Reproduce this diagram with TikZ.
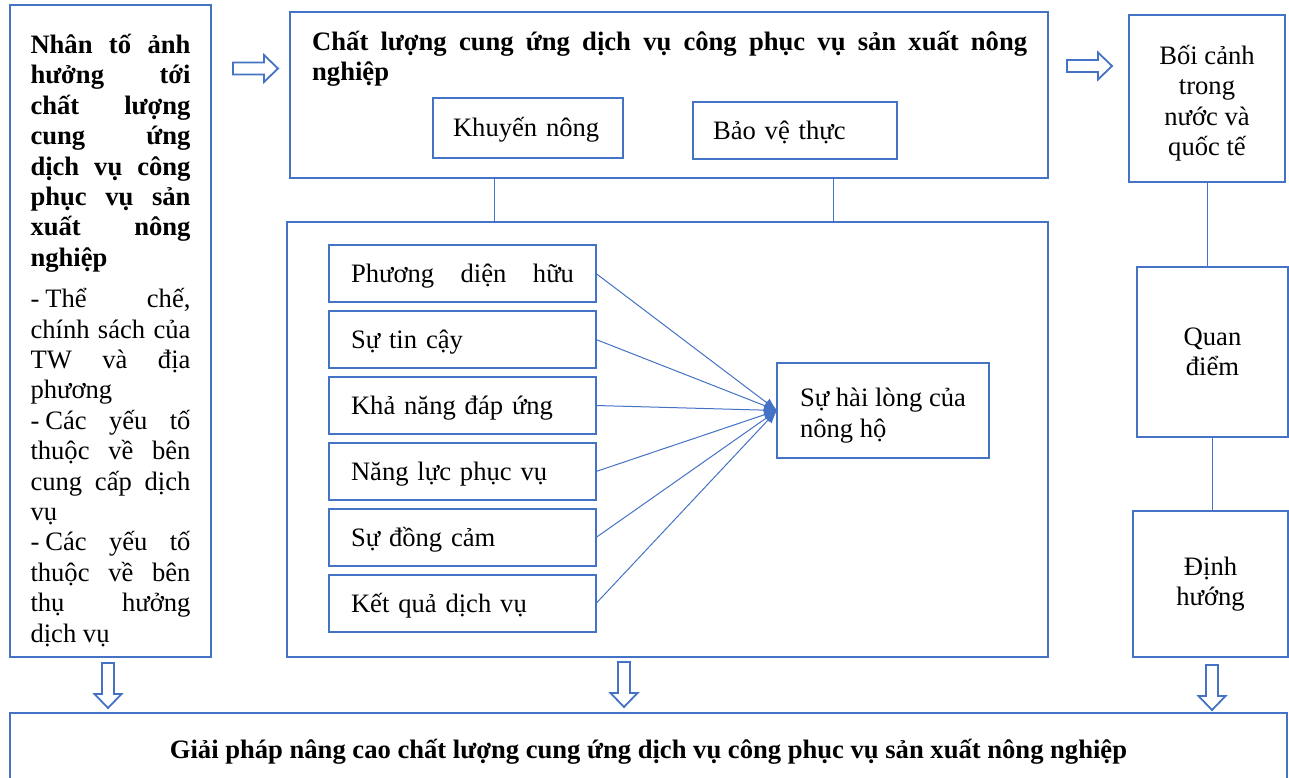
\documentclass[tikz,border=0pt]{standalone}
\usepackage{fontspec}
\setmainfont{Liberation Serif}
\usetikzlibrary{positioning,calc,arrows.meta}
\definecolor{boxblue}{RGB}{68,114,196}
\newcommand{\gach}{-\hspace{6pt}}
\tolerance=10000
\hbadness=10000
\hyphenpenalty=10000

\begin{document}
\begin{tikzpicture}[x=1pt, y=1pt,
    box/.style={draw=boxblue, line width=2.6pt, outer sep=0pt},
    txt/.style={font=\fontsize{26.6pt}{30.4pt}\selectfont},
    boldtxt/.style={font=\fontsize{26.6pt}{30.4pt}\selectfont\bfseries},
    oneline/.style={text height=22pt, text depth=4pt},
    link/.style={draw=boxblue, line width=1pt},
    factor/.style={box, txt, oneline, anchor=north west, minimum width=267pt, minimum height=57pt, text width=223pt, inner xsep=22pt, inner ysep=0pt, align=left},
    blockarrow/.pic={\draw[boxblue, line width=1.8pt, fill=white, line join=miter] (0,-6) -- (31,-6) -- (31,-13.5) -- (45,0) -- (31,13.5) -- (31,6) -- (0,6) -- cycle;}
]
\useasboundingbox (0,0) rectangle (1289,-778);

% Nhan to anh huong
\node (nhanto) [box, txt, anchor=north west, minimum width=201pt, minimum height=652pt, text width=160pt, inner xsep=20.5pt, inner ysep=0pt, align=justify, text height=38pt] at (10,-5) {{\bfseries Nhân tố ảnh\linebreak hưởng tới\linebreak chất lượng\linebreak cung ứng\linebreak dịch vụ công\linebreak phục vụ sản\linebreak xuất nông\linebreak nghiệp}\\[11pt]
\gach Thể chế,\linebreak chính sách của\linebreak TW và địa\linebreak phương\\
\gach Các yếu tố\linebreak thuộc về bên\linebreak cung cấp dịch\linebreak vụ\\
\gach Các yếu tố\linebreak thuộc về bên\linebreak thụ hưởng\linebreak dịch vụ};

% Chat luong cung ung
\node (chatluong) [box, anchor=north west, minimum width=758pt, minimum height=166pt] at (290,-12) {};
\node (tieude) [boldtxt, anchor=north west, text width=715pt, align=justify, inner sep=0pt, text height=20pt] at ($(chatluong.north west)+(22,-18)$) {Chất lượng cung ứng dịch vụ công phục vụ sản xuất nông\linebreak nghiệp};
\node (khuyennong) [box, txt, oneline, anchor=north west, minimum width=190pt, minimum height=60pt, text width=150pt, inner xsep=20pt, inner ysep=0pt, align=left] at (433,-98) {Khuyến nông};
\node (baove) [box, txt, oneline, anchor=north west, minimum width=204pt, minimum height=57pt, text width=164pt, inner xsep=20pt, inner ysep=0pt, align=left] at (693,-102) {Bảo vệ thực};

% Cac yeu to
\node (yeuto) [box, anchor=north west, minimum width=761pt, minimum height=435pt] at (287,-222) {};
\node (huuhinh) [factor] at (329,-245) {Phương\hfill diện\hfill hữu};
\node (tincay) [factor, below=9pt of huuhinh] {Sự tin cậy};
\node (dapung) [factor, below=9pt of tincay] {Khả năng đáp ứng};
\node (nangluc) [factor, below=9pt of dapung] {Năng lực phục vụ};
\node (dongcam) [factor, below=9pt of nangluc] {Sự đồng cảm};
\node (ketqua) [factor, below=9pt of dongcam] {Kết quả dịch vụ};
\node (hailong) [box, txt, anchor=north west, minimum width=212pt, minimum height=95pt, inner sep=0pt, align=left, text height=59pt] at (777,-363) {Sự hài lòng của\\nông hộ};

% Cot phai
\node (boicanh) [box, txt, anchor=north west, minimum width=156pt, minimum height=167pt, align=center, text height=120pt] at (1129,-15) {Bối cảnh\\trong\\nước và\\quốc tế};
\node (quandiem) [box, txt, anchor=north west, minimum width=151pt, minimum height=170pt, align=center] at (1137,-267) {Quan\\điểm};
\node (dinhhuong) [box, txt, anchor=north west, minimum width=155pt, minimum height=146pt, align=center] at (1133,-511) {Định\\hướng};

% Giai phap
\node (giaiphap) [box, boldtxt, oneline, anchor=north west, minimum width=1277pt, minimum height=72pt] at (10,-713) {Giải pháp nâng cao chất lượng cung ứng dịch vụ công phục vụ sản xuất nông nghiệp};

% Ket noi
\draw[link] ([xshift=204pt]chatluong.south west) -- ([xshift=207pt]yeuto.north west);
\draw[link] ([xshift=543pt]chatluong.south west) -- ([xshift=546pt]yeuto.north west);
\draw[link] (boicanh.south) -- (boicanh.south |- quandiem.north);
\draw[link] (quandiem.south) -- (quandiem.south |- dinhhuong.north);
\draw[link, -{Latex[length=13pt, width=10pt]}] (huuhinh.east) -- (hailong.west);
\draw[link, -{Latex[length=13pt, width=10pt]}] (tincay.east) -- (hailong.west);
\draw[link, -{Latex[length=13pt, width=10pt]}] (dapung.east) -- (hailong.west);
\draw[link, -{Latex[length=13pt, width=10pt]}] (nangluc.east) -- (hailong.west);
\draw[link, -{Latex[length=13pt, width=10pt]}] (dongcam.east) -- (hailong.west);
\draw[link, -{Latex[length=13pt, width=10pt]}] (ketqua.east) -- (hailong.west);

% Mui ten khoi
\pic at ($(nhanto.north east)+(22,-63.5)$) {blockarrow};
\pic at ($(chatluong.north east)+(19,-54)$) {blockarrow};
\pic[rotate=-90] at ($(nhanto.south)+(-2.5,-6)$) {blockarrow};
\pic[rotate=-90] at ($(yeuto.south)+(-43.5,-5)$) {blockarrow};
\pic[rotate=-90] at ($(dinhhuong.south)+(1.5,-8)$) {blockarrow};

\end{tikzpicture}
\end{document}
